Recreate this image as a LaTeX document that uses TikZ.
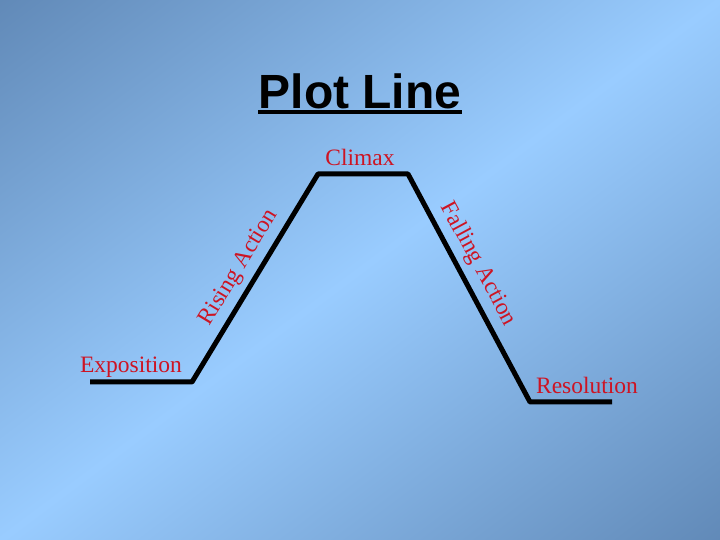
\documentclass[tikz,border=0pt]{standalone}
\usepackage{fontspec}
\setmainfont{Liberation Serif}
\newfontfamily\titlefont{Liberation Sans}
\usepackage{tikz}
\usetikzlibrary{positioning}
\definecolor{bgdark}{RGB}{95,135,181}
\definecolor{bglight}{RGB}{153,204,255}
\definecolor{plotred}{RGB}{205,20,35}

\begin{document}
\begin{tikzpicture}[x=1pt, y=1pt,
  stage/.style={text=plotred, font=\fontsize{23.5}{26}\selectfont, inner sep=1pt},
  plotline/.style={line width=5pt, line join=round, black}
]
% background
\useasboundingbox (0,0) rectangle (720,540);
\begin{scope}
  \clip (0,0) rectangle (720,540);
  \shade[top color=bgdark, bottom color=bgdark, middle color=bglight, shading angle=36.87]
    (-90,-180) rectangle (810,720);
\end{scope}
% title
\node[font=\titlefont\bfseries\fontsize{48}{52}\selectfont, inner sep=0pt] (title) at (360,449) {Plot Line};
\draw[line width=4pt] (title.south west) ++(0,-3) coordinate (ul1) -- (ul1 -| title.south east);
% the plot line
\coordinate (e1) at (90,158);
\coordinate (e2) at (192,158);
\coordinate (c1) at (318,366);
\coordinate (c2) at (408,366);
\coordinate (r1) at (530,138);
\coordinate (r2) at (612,138);
\draw[plotline] (e1) -- (e2) -- (c1) -- (c2) -- (r1) -- (r2);
% labels
\node[stage] (climax) at (360,383) {Climax};
\node[stage] (expo)   at (131,173) {Exposition};
\node[stage] (resol)  at (587,155) {Resolution};
\node[stage, rotate=58.8]  (rising)  at (239,272) {Rising Action};
\node[stage, rotate=-61.8] (falling) at (478,276) {Falling Action};
\end{tikzpicture}
\end{document}
